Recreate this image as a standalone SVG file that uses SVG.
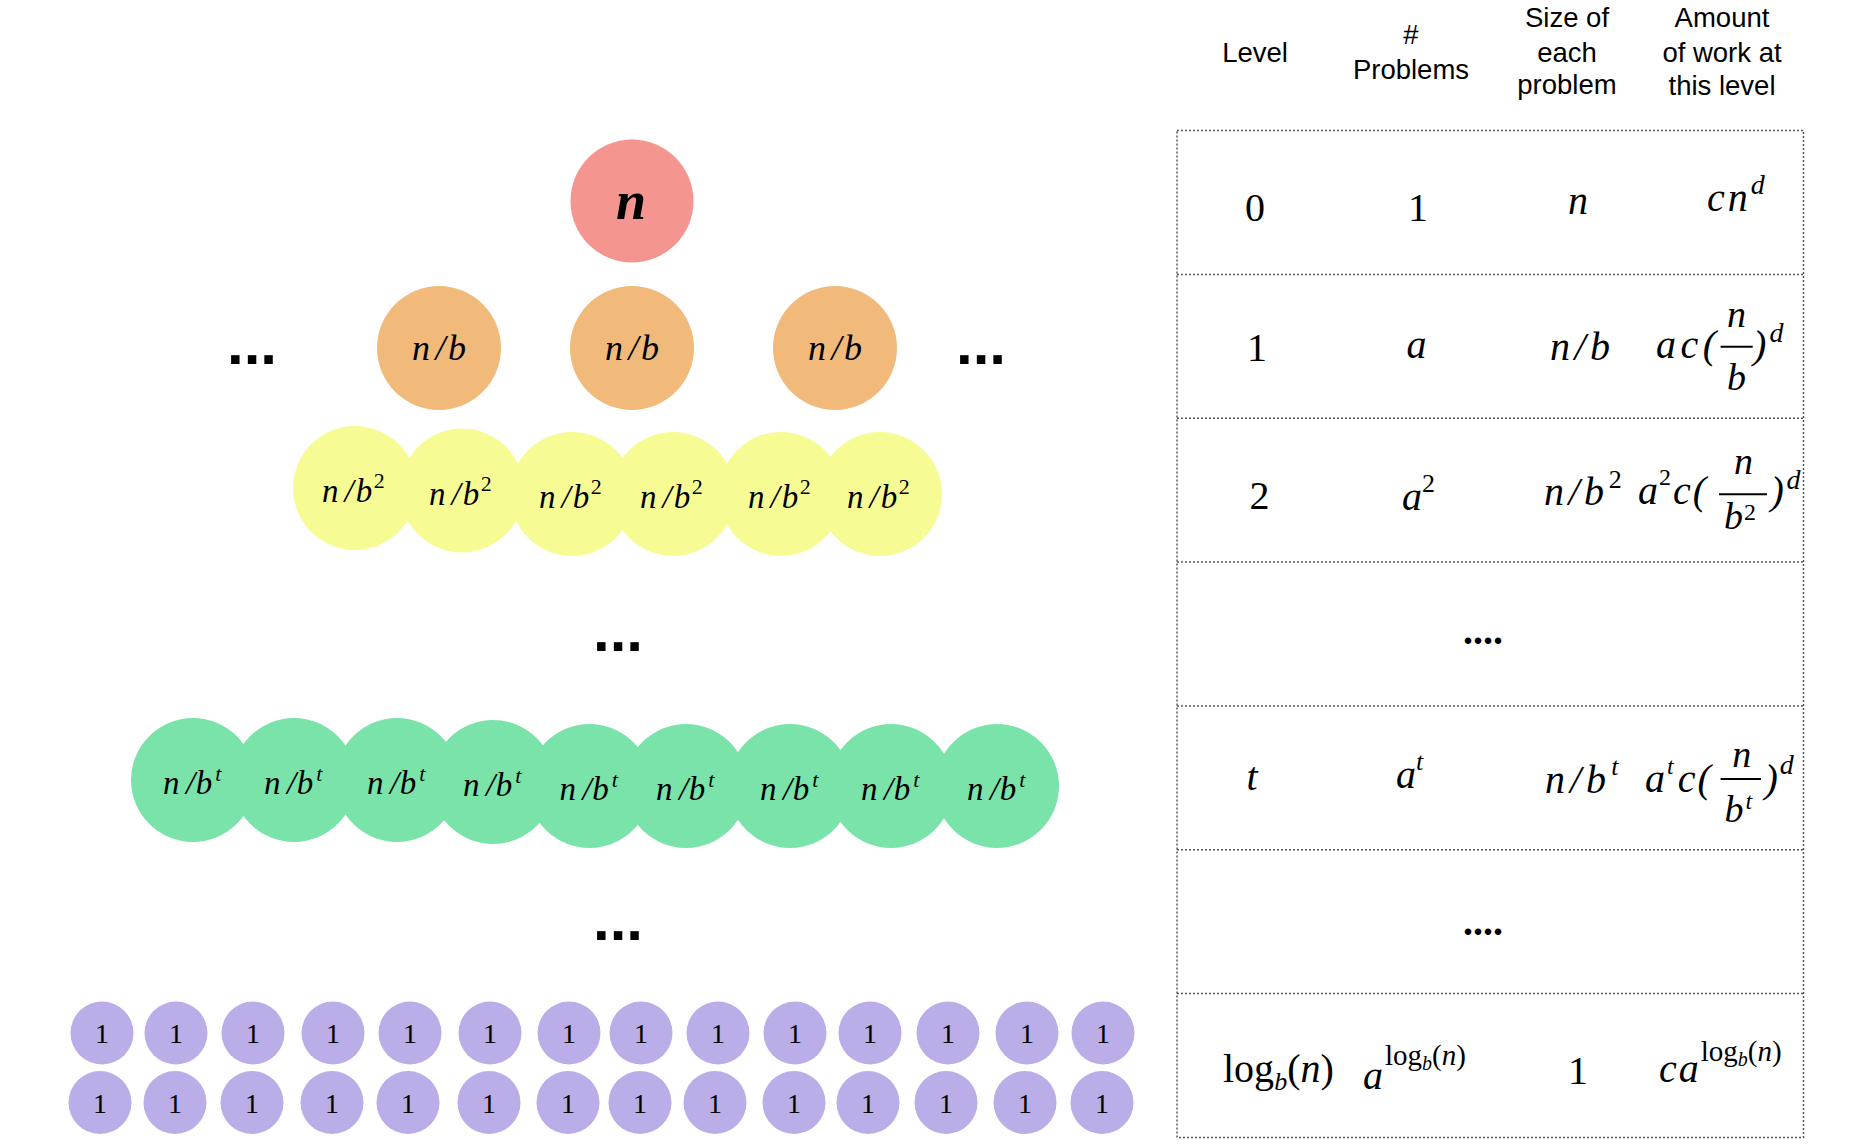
<svg xmlns="http://www.w3.org/2000/svg" width="1859" height="1144" viewBox="0 0 1859 1144">
<style>
.red{fill:#F59590}.org{fill:#F1BA7A}.yel{fill:#F6FC93}.grn{fill:#79E3AA}.pur{fill:#BBADE8}
.lab{font-family:"Liberation Serif",serif;font-style:italic;fill:#000}
.one{font-family:"Liberation Serif",serif;font-size:28px;fill:#000;text-anchor:middle}
.dots{font-family:"Liberation Sans",sans-serif;font-weight:bold;font-size:60px;fill:#000}
.hdr{font-family:"Liberation Sans",sans-serif;font-size:27.5px;fill:#000;text-anchor:middle}
.m{font-family:"Liberation Serif",serif;font-size:40px;fill:#000}
.i{font-style:italic}
.fr{font-size:38px}
.sp{font-size:28px}
.grid{fill:none;stroke:#555;stroke-width:1.5;stroke-dasharray:2 2}
.bar{stroke:#000;stroke-width:2}
</style>
<rect width="1859" height="1144" fill="#fff"/>

<!-- level 0 -->
<g id="node-root">
<circle class="red" cx="632" cy="201" r="61.5"/>
<text class="lab" x="631" y="219" font-size="54" font-weight="bold" text-anchor="middle">n</text>
</g>

<!-- level 1 -->
<g id="node-l1-1"><circle class="org" cx="439" cy="348" r="62"/><text class="lab" x="412" y="360" font-size="36">n<tspan dx="5.5">/</tspan><tspan dx="2.5">b</tspan></text></g>
<g id="node-l1-2"><circle class="org" cx="632" cy="348" r="62"/><text class="lab" x="605" y="360" font-size="36">n<tspan dx="5.5">/</tspan><tspan dx="2.5">b</tspan></text></g>
<g id="node-l1-3"><circle class="org" cx="835" cy="348" r="62"/><text class="lab" x="808" y="360" font-size="36">n<tspan dx="5.5">/</tspan><tspan dx="2.5">b</tspan></text></g>
<g id="dots-l1-left"><text class="dots" x="227" y="364">...</text></g>
<g id="dots-l1-right"><text class="dots" x="956" y="364">...</text></g>

<!-- level 2 -->
<g id="node-l2-1"><circle class="yel" cx="355" cy="488" r="62"/><text class="lab" x="322" y="502" font-size="33">n<tspan dx="6">/</tspan><tspan dx="2">b</tspan><tspan font-size="22" font-style="normal" dx="1.5" dy="-14">2</tspan></text></g>
<g id="node-l2-2"><circle class="yel" cx="462" cy="490.5" r="62"/><text class="lab" x="429" y="504.5" font-size="33">n<tspan dx="6">/</tspan><tspan dx="2">b</tspan><tspan font-size="22" font-style="normal" dx="1.5" dy="-14">2</tspan></text></g>
<g id="node-l2-3"><circle class="yel" cx="572" cy="494" r="62"/><text class="lab" x="539" y="508" font-size="33">n<tspan dx="6">/</tspan><tspan dx="2">b</tspan><tspan font-size="22" font-style="normal" dx="1.5" dy="-14">2</tspan></text></g>
<g id="node-l2-4"><circle class="yel" cx="673" cy="494" r="62"/><text class="lab" x="640" y="508" font-size="33">n<tspan dx="6">/</tspan><tspan dx="2">b</tspan><tspan font-size="22" font-style="normal" dx="1.5" dy="-14">2</tspan></text></g>
<g id="node-l2-5"><circle class="yel" cx="781" cy="494" r="62"/><text class="lab" x="748" y="508" font-size="33">n<tspan dx="6">/</tspan><tspan dx="2">b</tspan><tspan font-size="22" font-style="normal" dx="1.5" dy="-14">2</tspan></text></g>
<g id="node-l2-6"><circle class="yel" cx="880" cy="494" r="62"/><text class="lab" x="847" y="508" font-size="33">n<tspan dx="6">/</tspan><tspan dx="2">b</tspan><tspan font-size="22" font-style="normal" dx="1.5" dy="-14">2</tspan></text></g>

<g id="dots-mid-1"><text class="dots" x="593" y="651">...</text></g>

<!-- level t -->
<g id="node-lt-1"><circle class="grn" cx="193" cy="780" r="62"/><text class="lab" x="163" y="794" font-size="33">n<tspan dx="6.5">/</tspan><tspan dx="0.5">b</tspan><tspan font-size="22" dx="3" dy="-13">t</tspan></text></g>
<g id="node-lt-2"><circle class="grn" cx="294" cy="780" r="62"/><text class="lab" x="264" y="794" font-size="33">n<tspan dx="6.5">/</tspan><tspan dx="0.5">b</tspan><tspan font-size="22" dx="3" dy="-13">t</tspan></text></g>
<g id="node-lt-3"><circle class="grn" cx="397" cy="780" r="62"/><text class="lab" x="367" y="794" font-size="33">n<tspan dx="6.5">/</tspan><tspan dx="0.5">b</tspan><tspan font-size="22" dx="3" dy="-13">t</tspan></text></g>
<g id="node-lt-4"><circle class="grn" cx="493" cy="782" r="62"/><text class="lab" x="463" y="796" font-size="33">n<tspan dx="6.5">/</tspan><tspan dx="0.5">b</tspan><tspan font-size="22" dx="3" dy="-13">t</tspan></text></g>
<g id="node-lt-5"><circle class="grn" cx="589.5" cy="786" r="62"/><text class="lab" x="559.5" y="800" font-size="33">n<tspan dx="6.5">/</tspan><tspan dx="0.5">b</tspan><tspan font-size="22" dx="3" dy="-13">t</tspan></text></g>
<g id="node-lt-6"><circle class="grn" cx="686" cy="786" r="62"/><text class="lab" x="656" y="800" font-size="33">n<tspan dx="6.5">/</tspan><tspan dx="0.5">b</tspan><tspan font-size="22" dx="3" dy="-13">t</tspan></text></g>
<g id="node-lt-7"><circle class="grn" cx="790" cy="786" r="62"/><text class="lab" x="760" y="800" font-size="33">n<tspan dx="6.5">/</tspan><tspan dx="0.5">b</tspan><tspan font-size="22" dx="3" dy="-13">t</tspan></text></g>
<g id="node-lt-8"><circle class="grn" cx="891" cy="786" r="62"/><text class="lab" x="861" y="800" font-size="33">n<tspan dx="6.5">/</tspan><tspan dx="0.5">b</tspan><tspan font-size="22" dx="3" dy="-13">t</tspan></text></g>
<g id="node-lt-9"><circle class="grn" cx="997" cy="786" r="62"/><text class="lab" x="967" y="800" font-size="33">n<tspan dx="6.5">/</tspan><tspan dx="0.5">b</tspan><tspan font-size="22" dx="3" dy="-13">t</tspan></text></g>

<g id="dots-mid-2"><text class="dots" x="593" y="940">...</text></g>

<!-- leaves row 1 -->
<g id="leaf-r1-1"><circle class="pur" cx="102" cy="1033" r="31.5"/><text class="one" x="102" y="1043">1</text></g>
<g id="leaf-r1-2"><circle class="pur" cx="176" cy="1033" r="31.5"/><text class="one" x="176" y="1043">1</text></g>
<g id="leaf-r1-3"><circle class="pur" cx="253" cy="1033" r="31.5"/><text class="one" x="253" y="1043">1</text></g>
<g id="leaf-r1-4"><circle class="pur" cx="333" cy="1033" r="31.5"/><text class="one" x="333" y="1043">1</text></g>
<g id="leaf-r1-5"><circle class="pur" cx="410" cy="1033" r="31.5"/><text class="one" x="410" y="1043">1</text></g>
<g id="leaf-r1-6"><circle class="pur" cx="490" cy="1033" r="31.5"/><text class="one" x="490" y="1043">1</text></g>
<g id="leaf-r1-7"><circle class="pur" cx="569" cy="1033" r="31.5"/><text class="one" x="569" y="1043">1</text></g>
<g id="leaf-r1-8"><circle class="pur" cx="641" cy="1033" r="31.5"/><text class="one" x="641" y="1043">1</text></g>
<g id="leaf-r1-9"><circle class="pur" cx="718" cy="1033" r="31.5"/><text class="one" x="718" y="1043">1</text></g>
<g id="leaf-r1-10"><circle class="pur" cx="795" cy="1033" r="31.5"/><text class="one" x="795" y="1043">1</text></g>
<g id="leaf-r1-11"><circle class="pur" cx="870" cy="1033" r="31.5"/><text class="one" x="870" y="1043">1</text></g>
<g id="leaf-r1-12"><circle class="pur" cx="948" cy="1033" r="31.5"/><text class="one" x="948" y="1043">1</text></g>
<g id="leaf-r1-13"><circle class="pur" cx="1027" cy="1033" r="31.5"/><text class="one" x="1027" y="1043">1</text></g>
<g id="leaf-r1-14"><circle class="pur" cx="1103" cy="1033" r="31.5"/><text class="one" x="1103" y="1043">1</text></g>
<!-- leaves row 2 -->
<g id="leaf-r2-1"><circle class="pur" cx="100" cy="1102.5" r="31.5"/><text class="one" x="100" y="1112.5">1</text></g>
<g id="leaf-r2-2"><circle class="pur" cx="175" cy="1102.5" r="31.5"/><text class="one" x="175" y="1112.5">1</text></g>
<g id="leaf-r2-3"><circle class="pur" cx="252" cy="1102.5" r="31.5"/><text class="one" x="252" y="1112.5">1</text></g>
<g id="leaf-r2-4"><circle class="pur" cx="332" cy="1102.5" r="31.5"/><text class="one" x="332" y="1112.5">1</text></g>
<g id="leaf-r2-5"><circle class="pur" cx="408" cy="1102.5" r="31.5"/><text class="one" x="408" y="1112.5">1</text></g>
<g id="leaf-r2-6"><circle class="pur" cx="489" cy="1102.5" r="31.5"/><text class="one" x="489" y="1112.5">1</text></g>
<g id="leaf-r2-7"><circle class="pur" cx="568" cy="1102.5" r="31.5"/><text class="one" x="568" y="1112.5">1</text></g>
<g id="leaf-r2-8"><circle class="pur" cx="640" cy="1102.5" r="31.5"/><text class="one" x="640" y="1112.5">1</text></g>
<g id="leaf-r2-9"><circle class="pur" cx="715" cy="1102.5" r="31.5"/><text class="one" x="715" y="1112.5">1</text></g>
<g id="leaf-r2-10"><circle class="pur" cx="794" cy="1102.5" r="31.5"/><text class="one" x="794" y="1112.5">1</text></g>
<g id="leaf-r2-11"><circle class="pur" cx="868" cy="1102.5" r="31.5"/><text class="one" x="868" y="1112.5">1</text></g>
<g id="leaf-r2-12"><circle class="pur" cx="946" cy="1102.5" r="31.5"/><text class="one" x="946" y="1112.5">1</text></g>
<g id="leaf-r2-13"><circle class="pur" cx="1025" cy="1102.5" r="31.5"/><text class="one" x="1025" y="1112.5">1</text></g>
<g id="leaf-r2-14"><circle class="pur" cx="1102" cy="1102.5" r="31.5"/><text class="one" x="1102" y="1112.5">1</text></g>

<g id="connectors"></g>

<!-- table -->
<g id="table-header">
<text class="hdr" x="1255" y="62">Level</text>
<text class="hdr" x="1411" y="44">#</text>
<text class="hdr" x="1411" y="79">Problems</text>
<text class="hdr" x="1567" y="27">Size of</text>
<text class="hdr" x="1567" y="62">each</text>
<text class="hdr" x="1567" y="94">problem</text>
<text class="hdr" x="1722" y="27">Amount</text>
<text class="hdr" x="1722" y="62">of work at</text>
<text class="hdr" x="1722" y="95">this level</text>
</g>
<g id="table-grid">
<rect class="grid" x="1177" y="130.5" width="626.5" height="1007"/>
<line class="grid" x1="1177" y1="274.4" x2="1803.5" y2="274.4"/>
<line class="grid" x1="1177" y1="418.2" x2="1803.5" y2="418.2"/>
<line class="grid" x1="1177" y1="562.1" x2="1803.5" y2="562.1"/>
<line class="grid" x1="1177" y1="705.9" x2="1803.5" y2="705.9"/>
<line class="grid" x1="1177" y1="849.8" x2="1803.5" y2="849.8"/>
<line class="grid" x1="1177" y1="993.6" x2="1803.5" y2="993.6"/>
</g>

<g id="row-0">
<text class="m" x="1255" y="221" text-anchor="middle">0</text>
<text class="m" x="1418" y="221" text-anchor="middle">1</text>
<text class="m i" x="1578" y="214" text-anchor="middle">n</text>
<text class="m i" x="1707" y="211" letter-spacing="3">cn<tspan class="sp" dy="-17">d</tspan></text>
</g>

<g id="row-1">
<text class="m" x="1257" y="360.5" text-anchor="middle">1</text>
<text class="m i" x="1416.5" y="357.5" text-anchor="middle">a</text>
<text class="m i" x="1550" y="359.6" letter-spacing="4.5">n/b</text>
<text class="m i" x="1656" y="357.5" letter-spacing="4.5">ac(</text>
<text class="m i fr" x="1736.6" y="327" text-anchor="middle">n</text>
<line class="bar" x1="1720.6" y1="346.7" x2="1752.7" y2="346.7"/>
<text class="m i fr" x="1736.5" y="389.6" text-anchor="middle">b</text>
<text class="m i" x="1753" y="357.5">)</text>
<text class="m i sp" x="1769.5" y="342.3">d</text>
</g>

<g id="row-2">
<text class="m" x="1259.5" y="509" text-anchor="middle">2</text>
<text class="m i" x="1402" y="510">a<tspan font-size="26" font-style="normal" dy="-18">2</tspan></text>
<text class="m i" x="1544" y="505" letter-spacing="4.5">n/b<tspan font-size="26" font-style="normal" dy="-17">2</tspan></text>
<text class="m i" x="1638" y="504">a<tspan font-size="24" font-style="normal" dx="1" dy="-19">2</tspan><tspan dx="2" dy="19" letter-spacing="2">c(</tspan></text>
<text class="m i fr" x="1743.4" y="474" text-anchor="middle">n</text>
<line class="bar" x1="1719" y1="494.2" x2="1767" y2="494.2"/>
<text class="m i fr" x="1724" y="529">b<tspan font-size="24" font-style="normal" dx="1" dy="-9">2</tspan></text>
<text class="m i" x="1770.6" y="504">)</text>
<text class="m i sp" x="1786.4" y="489">d</text>
</g>

<g id="row-3"><text class="m" x="1463" y="644" font-size="54" font-weight="bold">....</text></g>

<g id="row-4">
<text class="m i" x="1252" y="790" text-anchor="middle">t</text>
<text class="m i" x="1396" y="788">a<tspan font-size="26" dy="-18">t</tspan></text>
<text class="m i" x="1545" y="792.5" letter-spacing="5">n/b<tspan font-size="26" dy="-18">t</tspan></text>
<text class="m i" x="1645" y="792">a<tspan font-size="24" dx="2" dy="-18">t</tspan><tspan dx="4" dy="18" letter-spacing="2">c(</tspan></text>
<text class="m i fr" x="1741.7" y="767" text-anchor="middle">n</text>
<line class="bar" x1="1720.6" y1="779" x2="1761" y2="779"/>
<text class="m i fr" x="1724.5" y="822">b<tspan font-size="24" dx="2" dy="-13">t</tspan></text>
<text class="m i" x="1764.5" y="792">)</text>
<text class="m i sp" x="1779.7" y="774">d</text>
</g>

<g id="row-5"><text class="m" x="1463" y="935" font-size="54" font-weight="bold">....</text></g>

<g id="row-6">
<text class="m" x="1223" y="1082">log<tspan class="i" font-size="26" dy="8">b</tspan><tspan dy="-8">(</tspan><tspan class="i">n</tspan>)</text>
<text class="m i" x="1363" y="1088.7">a<tspan font-size="29" font-style="normal" dx="2" dy="-24">log</tspan><tspan font-size="20" dy="5">b</tspan><tspan font-size="29" font-style="normal" dy="-5">(</tspan><tspan font-size="29">n</tspan><tspan font-size="29" font-style="normal">)</tspan></text>
<text class="m" x="1578" y="1084" text-anchor="middle">1</text>
<text class="m i" x="1659" y="1082" letter-spacing="2">ca<tspan font-size="29" font-style="normal" letter-spacing="0" dy="-21">log</tspan><tspan font-size="20" letter-spacing="0" dy="5">b</tspan><tspan font-size="29" font-style="normal" letter-spacing="0" dy="-5">(</tspan><tspan font-size="29" letter-spacing="0">n</tspan><tspan font-size="29" font-style="normal" letter-spacing="0">)</tspan></text>
</g>
</svg>
